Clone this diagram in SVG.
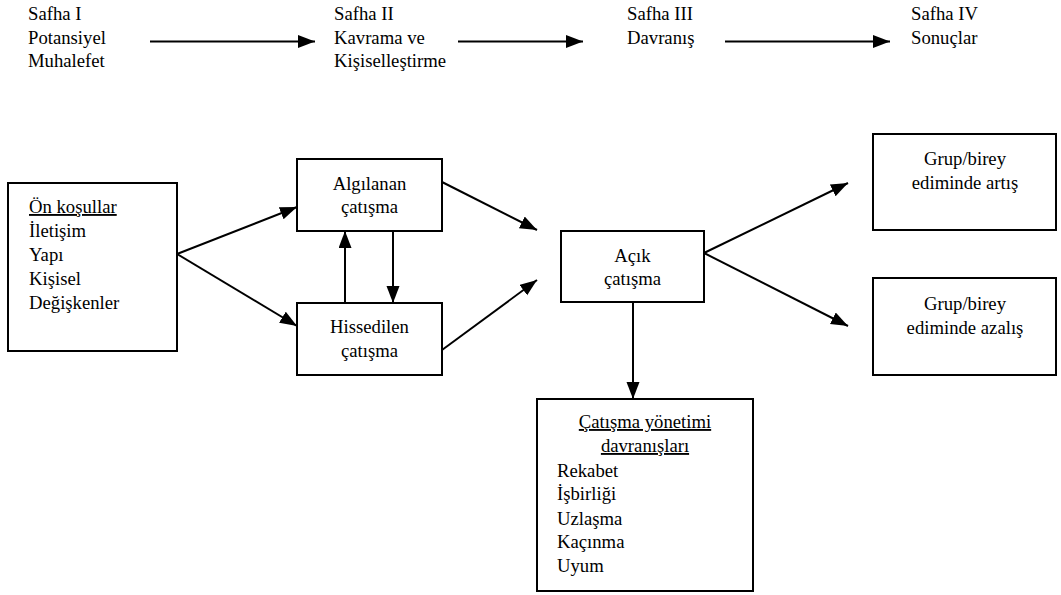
<svg xmlns="http://www.w3.org/2000/svg" width="1061" height="595" viewBox="0 0 1061 595" font-family="'Liberation Serif', 'DejaVu Serif', 'Times New Roman', serif">
<defs>
<marker id="ah" markerUnits="userSpaceOnUse" markerWidth="18" markerHeight="14" refX="17" refY="6.5" orient="auto">
<path d="M0,0 L17,6.5 L0,13 z" fill="#000"/>
</marker>
</defs>
<style>
text{font-family:'Liberation Serif','DejaVu Serif','Times New Roman',serif;font-size:18.7px;fill:#000}
.c{text-anchor:middle}
.u{text-decoration:underline}
rect{fill:#fff;stroke:#000;stroke-width:2}
.con line{stroke:#000;stroke-width:2;marker-end:url(#ah)}
</style>
<rect x="0" y="0" width="1061" height="595" style="stroke:none"/>
<g id="header">
<text x="28" y="20">Safha I</text>
<text x="28" y="43.5">Potansiyel</text>
<text x="28" y="67">Muhalefet</text>
<text x="334" y="20">Safha II</text>
<text x="334" y="43.5">Kavrama ve</text>
<text x="334" y="67">Kişiselleştirme</text>
<text x="627" y="20">Safha III</text>
<text x="627" y="43.5">Davranış</text>
<text x="911" y="20">Safha IV</text>
<text x="911" y="43.5">Sonuçlar</text>
</g>
<g id="on-kosullar">
<rect x="8" y="183" width="169" height="168"/>
<text x="29" y="213" class="u">Ön koşullar</text>
<text x="29" y="237">İletişim</text>
<text x="29" y="261">Yapı</text>
<text x="29" y="285">Kişisel</text>
<text x="29" y="309">Değişkenler</text>
</g>
<g id="algilanan">
<rect x="297" y="159" width="145" height="72"/>
<text x="369.5" y="190" class="c">Algılanan</text>
<text x="369.5" y="213" class="c">çatışma</text>
</g>
<g id="hissedilen">
<rect x="297" y="303" width="145" height="72"/>
<text x="369.5" y="333" class="c">Hissedilen</text>
<text x="369.5" y="357" class="c">çatışma</text>
</g>
<g id="acik">
<rect x="561" y="231" width="143" height="71"/>
<text x="632.5" y="262" class="c">Açık</text>
<text x="632.5" y="285" class="c">çatışma</text>
</g>
<g id="artis">
<rect x="873" y="134" width="183" height="96"/>
<text x="965" y="165" class="c">Grup/birey</text>
<text x="965" y="189" class="c">ediminde artış</text>
</g>
<g id="azalis">
<rect x="873" y="278" width="183" height="97"/>
<text x="965" y="310" class="c">Grup/birey</text>
<text x="965" y="334" class="c">ediminde azalış</text>
</g>
<g id="yonetim">
<rect x="537" y="399" width="216" height="192"/>
<text x="645" y="428" class="c u">Çatışma yönetimi</text>
<text x="645" y="452" class="c u">davranışları</text>
<text x="557" y="477">Rekabet</text>
<text x="557" y="500">İşbirliği</text>
<text x="557" y="525">Uzlaşma</text>
<text x="557" y="548">Kaçınma</text>
<text x="557" y="572">Uyum</text>
</g>
<g class="con" id="connectors">
<line x1="150" y1="41.5" x2="315" y2="41.5"/>
<line x1="458" y1="41.5" x2="583" y2="41.5"/>
<line x1="725" y1="41.5" x2="890" y2="41.5"/>
<line x1="177" y1="254" x2="297" y2="207"/>
<line x1="177" y1="254" x2="297" y2="326"/>
<line x1="345" y1="303" x2="345" y2="231"/>
<line x1="393" y1="231" x2="393" y2="303"/>
<line x1="442" y1="182" x2="537" y2="230"/>
<line x1="442" y1="350" x2="537" y2="280"/>
<line x1="704" y1="253" x2="848" y2="183"/>
<line x1="704" y1="253" x2="848" y2="326"/>
<line x1="633" y1="302" x2="633" y2="399"/>
</g>
</svg>
